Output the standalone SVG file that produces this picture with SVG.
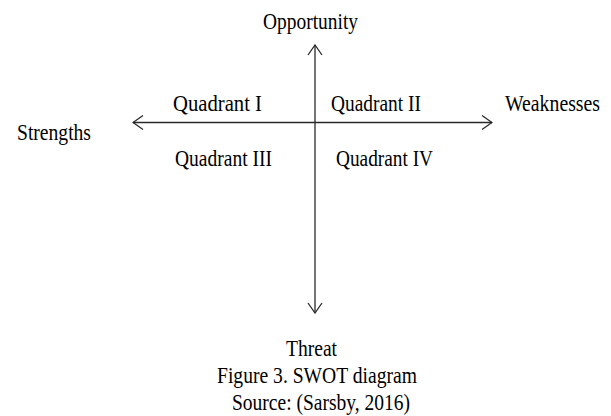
<svg xmlns="http://www.w3.org/2000/svg" width="611" height="416" viewBox="0 0 611 416">
<style>
text{font-family:"Liberation Serif","Times New Roman",serif;font-size:20px;fill:#000}
.ax{stroke:#2a2a2a;stroke-width:1.3;fill:none}
</style>
<defs>
<marker id="ah" viewBox="0 0 12 16" refX="11" refY="8" markerWidth="12" markerHeight="16" markerUnits="userSpaceOnUse" orient="auto-start-reverse">
<path d="M1,1 L11,8 L1,15" fill="none" stroke="#2a2a2a" stroke-width="1.3"/>
</marker>
</defs>
<rect width="611" height="416" fill="#fff"/>
<g id="connectors">
<line class="ax" x1="315" y1="313" x2="315" y2="45" marker-start="url(#ah)" marker-end="url(#ah)"/>
<line class="ax" x1="133" y1="122.5" x2="492" y2="122.5" marker-start="url(#ah)" marker-end="url(#ah)"/>
</g>
<g id="opportunity"><text transform="translate(263,29) scale(1,1.15)" textLength="95" lengthAdjust="spacingAndGlyphs">Opportunity</text></g>
<g id="threat"><text transform="translate(286,356) scale(1,1.15)" textLength="51" lengthAdjust="spacingAndGlyphs">Threat</text></g>
<g id="strengths"><text transform="translate(17,140) scale(1,1.15)" textLength="74" lengthAdjust="spacingAndGlyphs">Strengths</text></g>
<g id="weaknesses"><text transform="translate(505,111) scale(1,1.15)" textLength="95" lengthAdjust="spacingAndGlyphs">Weaknesses</text></g>
<g id="q1"><text transform="translate(173,111) scale(1,1.15)" textLength="89" lengthAdjust="spacingAndGlyphs">Quadrant I</text></g>
<g id="q2"><text transform="translate(331,111) scale(1,1.15)" textLength="90" lengthAdjust="spacingAndGlyphs">Quadrant II</text></g>
<g id="q3"><text transform="translate(175,166) scale(1,1.15)" textLength="97" lengthAdjust="spacingAndGlyphs">Quadrant III</text></g>
<g id="q4"><text transform="translate(336,166) scale(1,1.15)" textLength="97" lengthAdjust="spacingAndGlyphs">Quadrant IV</text></g>
<g id="caption">
<text transform="translate(217,383) scale(1,1.15)" textLength="200" lengthAdjust="spacingAndGlyphs">Figure 3. SWOT diagram</text>
<text transform="translate(232,410) scale(1,1.15)" textLength="178" lengthAdjust="spacingAndGlyphs">Source: (Sarsby, 2016)</text>
</g>
</svg>
